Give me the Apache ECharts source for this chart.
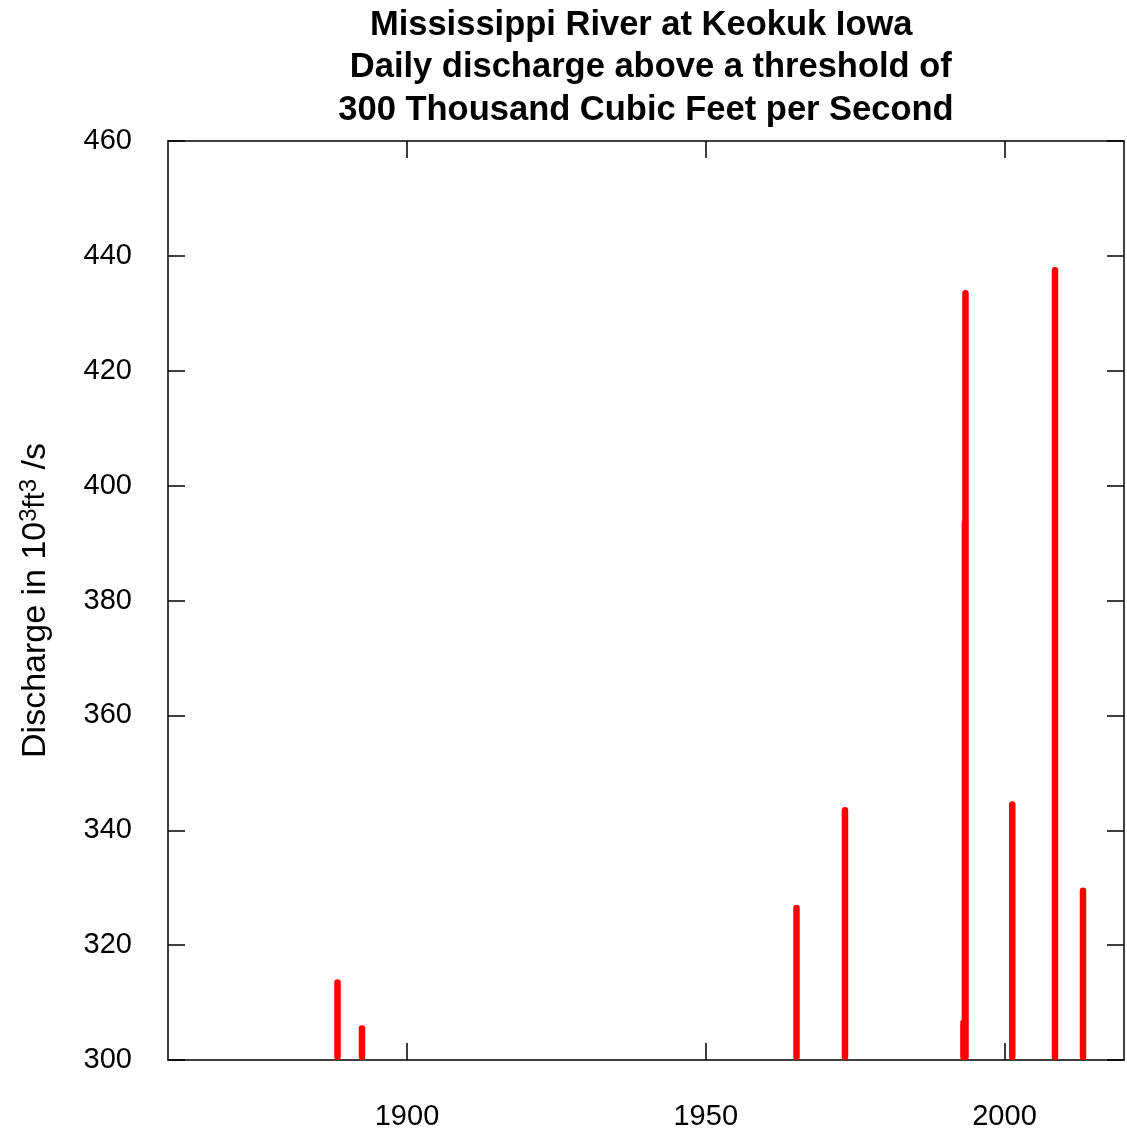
<!DOCTYPE html>
<html>
<head>
<meta charset="utf-8">
<script src="https://cdn.jsdelivr.net/npm/echarts@6/dist/echarts.min.js"></script>
<style>
html,body{margin:0;padding:0;background:#fff;}
#chart{width:1127px;height:1131px;}
</style>
</head>
<body>
<div id="chart"></div>
<script>
// Decimal year of each daily value above threshold
const years = [1888.37, 1892.47, 1965.19, 1973.30, 1993.13, 1993.38, 1993.47, 2001.30, 2008.45, 2013.14];
// Discharge, thousand ft^3/s
const discharge = [314, 306, 327, 344, 307, 394, 434, 345, 438, 330];
const threshold = 300;
const xTicks = [1900, 1950, 2000];
const yMin = 300, yMax = 460, yStep = 20;
const xMin = 1860, xMax = 2020;

const FONT = 'Liberation Sans, Arial, sans-serif';
const chart = echarts.init(document.getElementById('chart'), null, {renderer: 'canvas'});

const data = years.map((y, i) => [y, discharge[i]]);

const axisLine = {show: true, lineStyle: {color: '#000', width: 1.5}};
const tick = {show: true, inside: true, length: 17, lineStyle: {color: '#000', width: 1.5}};

chart.setOption({
  animation: false,
  backgroundColor: '#fff',
  title: {
    text: 'Mississippi River at Keokuk Iowa \n Daily discharge above a threshold of\n300 Thousand Cubic Feet per Second',
    left: 646, top: 4, textAlign: 'center', padding: 0,
    textStyle: {fontFamily: FONT, fontWeight: 'bold', fontSize: 34.5, lineHeight: 42.5, color: '#000'}
  },
  grid: {left: 168, right: 3, top: 141, bottom: 71, containLabel: false},
  xAxis: [{
    type: 'value', min: xMin, max: xMax, position: 'bottom',
    axisLine: axisLine, splitLine: {show: false},
    axisTick: Object.assign({}, tick, {customValues: xTicks}),
    axisLabel: {customValues: xTicks, margin: 42, fontFamily: FONT, fontSize: 29, color: '#000',
      formatter: v => String(v)}
  }, {
    type: 'value', min: xMin, max: xMax, position: 'top',
    axisLine: axisLine, splitLine: {show: false},
    axisTick: Object.assign({}, tick, {customValues: xTicks}),
    axisLabel: {show: false}
  }],
  yAxis: [{
    type: 'value', min: yMin, max: yMax, interval: yStep, position: 'left',
    axisLine: axisLine, splitLine: {show: false}, axisTick: tick,
    axisLabel: {margin: 36, fontFamily: FONT, fontSize: 29, color: '#000', padding: [4, 0, 0, 0]},
    name: '{a|Discharge in 10}{sup|3}{b|ft}{sup|3}{a| /s}',
    nameLocation: 'middle', nameRotate: 90, nameGap: 113,
    nameTextStyle: {
      fontFamily: FONT, fontSize: 34, color: '#000',
      rich: {
        a: {fontFamily: FONT, fontSize: 34, color: '#000'},
        b: {fontFamily: FONT, fontSize: 29, color: '#000'},
        sup: {fontFamily: FONT, fontSize: 24, color: '#000', padding: [0, 0, 14, 0]}
      }
    }
  }, {
    type: 'value', min: yMin, max: yMax, interval: yStep, position: 'right',
    axisLine: axisLine, splitLine: {show: false}, axisTick: tick,
    axisLabel: {show: false}
  }],
  series: [{
    type: 'custom',
    xAxisIndex: 0, yAxisIndex: 0,
    clip: true,
    data: data,
    renderItem: function (params, api) {
      const top = api.coord([api.value(0), api.value(1)]);
      const bot = api.coord([api.value(0), threshold]);
      return {
        type: 'line',
        shape: {x1: top[0], y1: bot[1] - 3, x2: top[0], y2: top[1] + 3},
        style: {stroke: '#ff0000', lineWidth: 6.5, lineCap: 'round'}
      };
    }
  }]
});
</script>
</body>
</html>
